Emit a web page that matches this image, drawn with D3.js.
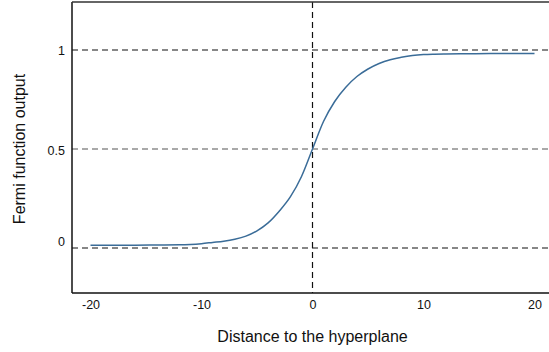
<!DOCTYPE html>
<html>
<head>
<meta charset="utf-8">
<script src="https://cdn.jsdelivr.net/npm/d3@7"></script>
<style>
  html, body { margin: 0; padding: 0; background: #fff; }
  svg { display: block; }
  text { font-family: "Liberation Sans", Arial, Helvetica, sans-serif; fill: #111; }
</style>
</head>
<body>
<svg id="chart" width="549" height="352"></svg>
<script>
// ---- data ----
const distance = [-20, -18, -16, -14, -12, -11, -10, -9, -8, -7, -6, -5, -4, -3, -2, -1, 0,
                  1, 2, 3, 4, 5, 6, 7, 8, 9, 10, 11, 12, 14, 16, 18, 20];
const fermiOutput = [0.014, 0.014, 0.014, 0.015, 0.016, 0.018, 0.022, 0.028, 0.034, 0.044, 0.060, 0.087, 0.127, 0.186, 0.258, 0.36, 0.5,
                     0.64, 0.74, 0.812, 0.866, 0.904, 0.932, 0.951, 0.963, 0.972, 0.977, 0.979, 0.980, 0.981, 0.982, 0.982, 0.982];
const xTicks = [-20, -10, 0, 10, 20];
const yTicks = [0, 0.5, 1];
const yTickLabels = ["0", "0.5", "1"];
const refLinesY = [0, 0.5, 1];
const refLinesX = [0];

// ---- layout ----
const svg = d3.select("#chart");
const mLeft = 72, mRight = 549, mTop = 2, mBottom = 293;

const x = d3.scaleLinear().domain([-20, 20]).range([90.5, 534.5]);
const y = d3.scaleLinear().domain([0, 1]).range([248, 50]);

// reference dashed lines
svg.append("g").selectAll("line").data(refLinesY).join("line")
  .attr("x1", mLeft).attr("x2", mRight)
  .attr("y1", d => y(d)).attr("y2", d => y(d))
  .attr("stroke", d => d === 0.5 ? "#555" : "#111")
  .attr("stroke-width", 1.2)
  .attr("stroke-dasharray", "6,4");

svg.append("g").selectAll("line").data(refLinesX).join("line")
  .attr("x1", d => x(d)).attr("x2", d => x(d))
  .attr("y1", mTop).attr("y2", mBottom)
  .attr("stroke", "#111")
  .attr("stroke-width", 1.2)
  .attr("stroke-dasharray", "6,4");

// curve
const pts = distance.map((d, i) => [d, fermiOutput[i]]);
svg.append("path")
  .datum(pts)
  .attr("fill", "none")
  .attr("stroke", "#3a6c98")
  .attr("stroke-width", 1.5)
  .attr("d", d3.line().x(d => x(d[0])).y(d => y(d[1])).curve(d3.curveMonotoneX));

// axes
const xAxis = d3.axisBottom(x).tickValues(xTicks).tickSize(0).tickPadding(7)
  .tickFormat(d => String(d));
const gx = svg.append("g").attr("transform", `translate(0,${mBottom})`).call(xAxis);
gx.select(".domain").remove();
gx.selectAll("text").style("font-size", "12.5px").style("font-family", "Liberation Sans, Arial, sans-serif").attr("fill", "#111");

const yAxis = d3.axisLeft(y).tickValues(yTicks).tickSize(0).tickPadding(7)
  .tickFormat((d, i) => yTickLabels[i]);
const gy = svg.append("g").attr("transform", `translate(${mLeft},0)`).call(yAxis);
gy.select(".domain").remove();
gy.selectAll("text").style("font-size", "12.5px").style("font-family", "Liberation Sans, Arial, sans-serif").attr("fill", "#111")
  .attr("dy", d => d === 0 ? "-0.2em" : d === 0.5 ? "0.45em" : "0.32em");

// frame lines (left, bottom, top)
svg.append("line").attr("x1", mLeft).attr("x2", mLeft).attr("y1", mTop).attr("y2", mBottom)
  .attr("stroke", "#111").attr("stroke-width", 1.5);
svg.append("line").attr("x1", mLeft).attr("x2", mRight).attr("y1", mBottom).attr("y2", mBottom)
  .attr("stroke", "#111").attr("stroke-width", 1.5);
svg.append("line").attr("x1", mLeft).attr("x2", mRight).attr("y1", mTop).attr("y2", mTop)
  .attr("stroke", "#333").attr("stroke-width", 1.5);

// axis titles
svg.append("text")
  .attr("x", x(0)).attr("y", 342)
  .attr("text-anchor", "middle")
  .style("font-size", "16px")
  .text("Distance to the hyperplane");

svg.append("text")
  .attr("transform", `translate(25,${(50 + 248) / 2}) rotate(-90)`)
  .attr("text-anchor", "middle")
  .style("font-size", "16px")
  .text("Fermi function output");
</script>
</body>
</html>
